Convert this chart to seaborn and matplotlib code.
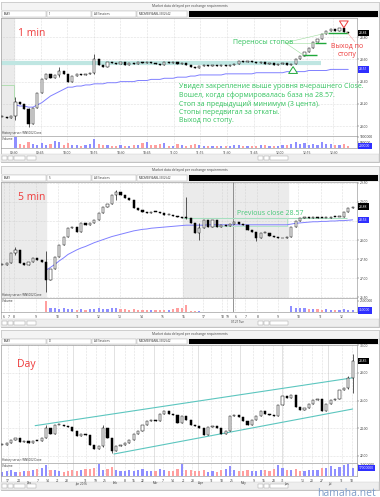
import numpy as np
import matplotlib
matplotlib.use("Agg")
import matplotlib.pyplot as plt
import matplotlib.transforms as mtransforms
from matplotlib.patches import Rectangle
import seaborn as sns

# ---------------- data ----------------
ticker = "EBAY"
feed_note = "Market data delayed per exchange requirements"
sessions = "All Sessions"
account = "MBDMEBYAN6L3502542"
prev_close = 28.57

# 1 min panel
close_1m = [28.08, 28.07, 28.09, 28.22, 28.20, 28.15, 28.02, 28.16, 28.30, 28.42,
            28.47, 28.43, 28.46, 28.50, 28.47, 28.40, 28.45, 28.47, 28.46, 28.47,
            28.48, 28.60, 28.55, 28.53, 28.58, 28.57, 28.56, 28.58, 28.55, 28.57,
            28.56, 28.58, 28.57, 28.58, 28.57, 28.56, 28.55, 28.58, 28.57, 28.58,
            28.56, 28.57, 28.55, 28.53, 28.52, 28.54, 28.55, 28.54, 28.55, 28.54,
            28.55, 28.54, 28.55, 28.56, 28.59, 28.58, 28.59, 28.58, 28.57, 28.58,
            28.56, 28.57, 28.55, 28.56, 28.57, 28.55, 28.56, 28.60, 28.63, 28.67,
            28.70, 28.76, 28.78, 28.83, 28.86, 28.87, 28.86, 28.88, 28.85, 28.84]
ma_1m = [None, None, None,
         28.19, 28.18, 28.18, 28.17, 28.17, 28.19, 28.21,
         28.24, 28.27, 28.29, 28.31, 28.33, 28.35, 28.35, 28.36, 28.36, 28.37,
         28.37, 28.38, 28.38, 28.38, 28.39, 28.39, 28.39, 28.40, 28.40, 28.40,
         28.40, 28.41, 28.41, 28.41, 28.42, 28.42, 28.42, 28.43, 28.43, 28.43,
         28.44, 28.44, 28.44, 28.45, 28.45, 28.46, 28.46, 28.46, 28.46, 28.46,
         28.46, 28.47, 28.47, 28.47, 28.47, 28.47, 28.47, 28.47, 28.48, 28.48,
         28.48, 28.48, 28.48, 28.48, 28.48, 28.49, 28.49, 28.49, 28.49, 28.49,
         28.50, 28.50, 28.50, 28.50, 28.50, 28.51, 28.51, 28.51, 28.51, 28.51]
vol_1m = [30, 40, 30, 1000, 350, 300, 550, 400, 300, 450,
          250, 350, 600, 500, 300, 450, 250, 300, 200, 250,
          400, 850, 350, 250, 300, 200, 220, 250, 180, 200,
          250, 300, 450, 550, 300, 250, 350, 450, 200, 180,
          350, 250, 200, 300, 400, 250, 180, 200, 150, 180,
          220, 150, 180, 250, 300, 200, 180, 150, 200, 250,
          300, 180, 150, 200, 250, 300, 350, 500, 400, 450,
          300, 400, 300, 500, 350, 400, 250, 300, 400, 200]
wicks_1m = {3: (28.05, 28.26), 6: (27.99, 28.16), 13: (28.44, 28.53), 21: (28.47, 28.65)}
times_1m = ["09:30", "09:45", "10:00", "10:15", "10:30", "10:45", "11:00",
            "11:15", "11:30", "11:45", "12:00", "12:15", "12:30"]
stops_1m = [(68.7, 71.8, 28.64), (71.5, 73.9, 28.75), (74.3, 79.0, 28.84)]
notes_1m = ["Увидел закрепление выше уровня вчерашнего Close.",
            "Вошел, когда сформировалась база на 28.57.",
            "Стоп за предыдущий минимум (3 цента).",
            "Стопы передвигал за откаты.",
            "Выход по стопу."]

# 5 min panel
close_5m = [27.34, 27.39, 27.65, 27.74, 27.39, 27.34, 27.43, 27.52, 27.48, 27.43,
            26.95, 27.25, 27.56, 27.87, 28.09, 28.31, 28.35, 28.22, 28.44, 28.39,
            28.44, 28.53, 28.70, 28.88, 28.96, 29.18, 29.27, 29.18, 29.10, 29.05,
            28.83, 28.79, 28.74, 28.70, 28.74, 28.73, 28.70, 28.66, 28.67, 28.64,
            28.61, 28.59, 28.57, 28.44, 28.18, 28.31, 28.53, 28.35, 28.53, 28.35,
            28.39, 28.37, 28.41, 28.48, 28.41, 28.39, 28.26, 28.22, 28.04, 28.18,
            28.18, 28.11, 28.09, 28.06, 28.04, 28.09, 28.35, 28.50, 28.59, 28.61,
            28.59, 28.60, 28.59, 28.57, 28.59, 28.61, 28.60, 28.61, 28.74, 28.85, 28.88]
ma_5m = [None] * 10 + [
         27.21, 27.28, 27.36, 27.45, 27.53, 27.62, 27.68, 27.74, 27.79, 27.83,
         27.88, 27.93, 27.97, 28.01, 28.05, 28.09, 28.12, 28.15, 28.18, 28.21,
         28.24, 28.26, 28.28, 28.29, 28.31, 28.32, 28.33, 28.34, 28.35, 28.36,
         28.37, 28.38, 28.39, 28.39, 28.39, 28.39, 28.39, 28.40, 28.40, 28.40,
         28.40, 28.40, 28.40, 28.40, 28.40, 28.40, 28.40, 28.40, 28.40, 28.40,
         28.40, 28.40, 28.40, 28.40, 28.40, 28.40, 28.42, 28.44, 28.45, 28.46,
         28.47, 28.48, 28.48, 28.49, 28.49, 28.50, 28.50, 28.51, 28.51, 28.52, 28.53]
vol_5m = [5, 5, 8, 5, 5, 6, 5, 5, 6, 8,
          2400, 900, 800, 700, 850, 600, 750, 550, 650, 500,
          700, 600, 800, 650, 700, 850, 900, 650, 600, 500,
          700, 450, 550, 400, 450, 400, 500, 450, 550, 650,
          800, 1000, 1500, 200, 150, 120, 90, 60, 70, 40,
          30, 20, 15, 20, 30, 40, 60, 50, 70, 40,
          30, 40, 50, 60, 50, 80, 1300, 1000, 800, 900,
          700, 600, 750, 500, 650, 450, 550, 400, 600, 550, 350]
wicks_5m = {3: (27.60, 27.82), 10: (26.63, 27.70), 26: (29.05, 29.32),
            42: (28.55, 29.12), 45: (28.00, 28.45), 58: (27.98, 28.22)}
hours_5m = ["6", "7", "8", "9", "10", "11", "12", "13", "14", "15", "16",
            "17", "18", "19", "6", "7", "8", "9", "10", "11", "12"]

# daily panel
close_day = [22.79, 22.90, 23.15, 23.27, 23.00, 23.03, 22.90, 23.08, 23.03, 23.27,
             24.00, 23.57, 24.20, 24.24, 24.17, 24.05, 23.76, 23.40, 23.57, 23.47,
             22.79, 22.50, 22.67, 24.00, 23.27, 22.35, 22.67, 22.74, 22.90, 23.15,
             23.57, 23.76, 24.24, 24.53, 24.60, 24.48, 25.00, 25.21, 25.04, 24.92,
             24.36, 24.85, 24.60, 24.20, 24.12, 24.00, 23.47, 24.05, 24.12, 24.00,
             23.57, 23.80, 24.85, 24.92, 24.78, 24.48, 24.20, 24.60, 24.85, 25.26,
             25.00, 24.97, 24.85, 25.70, 26.30, 26.18, 26.42, 25.50, 25.33, 25.45,
             25.75, 26.06, 26.13, 25.21, 25.75, 26.06, 26.13, 26.79, 26.91, 27.64, 28.85]
vol_day = [9.1, 10.2, 12.5, 8.4, 9.0, 11.3, 10.1, 13.0, 15.2, 18.0,
           24.5, 14.1, 12.2, 10.5, 9.8, 11.9, 13.4, 10.2, 12.8, 14.6,
           16.0, 18.5, 26.0, 14.3, 15.5, 19.8, 13.2, 11.0, 10.6, 12.4,
           11.8, 13.7, 15.9, 12.0, 10.4, 11.6, 14.8, 13.3, 12.1, 11.0,
           16.4, 25.5, 13.6, 12.8, 10.9, 11.7, 14.2, 9.8, 10.3, 9.5,
           12.6, 15.3, 23.0, 13.8, 11.4, 10.2, 12.7, 11.1, 10.6, 13.9,
           12.2, 11.5, 14.9, 24.2, 17.5, 13.0, 12.3, 15.8, 11.6, 10.8,
           12.9, 14.1, 13.5, 18.2, 16.7, 22.5, 15.1, 19.4, 24.8, 26.5, 17.0]
wicks_day = {10: (23.25, 24.25), 23: (22.60, 24.20), 25: (22.15, 23.30),
             79: (26.85, 27.80), 80: (26.55, 29.35)}
channel_up = ([7.5, 80.0], [24.17, 27.65])
channel_dn = ([25.5, 80.0], [22.11, 25.38])
weeks_day = ["17", "24", "7", "14", "21", "28", "11", "19", "25", "8", "16", "22", "7", "14",
             "21", "28", "11", "18", "25", "9", "16", "23", "31", "13", "20", "27", "11", "18"]
months_day = ["Dec", "Jan 2016", "Feb", "Mar", "Apr", "May", "Jun", "Jul"]

# ---------------- layout (pixels) ----------------
W, H = 380, 497
XMIN, XMAX = -0.3, 81.0
PLOT_R = 357
PX_PER_BAR = PLOT_R / (XMAX - XMIN)
MA_COL = "#8080ff"
VUP, VDN = "#8f8fff", "#ff9f9f"
GREEN, RED = "#33c25e", "#ee3b3b"
ARROW = "simple,head_width=0.9,head_length=0.7,tail_width=0.4"

sns.set_theme(style="white")
plt.rcParams["font.family"] = ["Open Sans", "DejaVu Sans"]

fig = plt.figure(figsize=(W / 100, H / 100), dpi=100)
bg = fig.add_axes([0, 0, 1, 1], zorder=-5)
bg.set_xlim(0, W)
bg.set_ylim(H, 0)
bg.axis("off")


def px2i(px):
    return np.asarray(px, float) / PX_PER_BAR + XMIN


def box(x0, y0, x1, y1, **kw):
    bg.add_patch(Rectangle((x0, y0), x1 - x0, y1 - y0, **kw))


def ptext(x, y, s, **kw):
    fig.text(x / W, 1 - y / H, s, **kw)


def add_ax(x0, y0, x1, y1):
    return fig.add_axes([x0 / W, 1 - y1 / H, (x1 - x0) / W, (y1 - y0) / H])


def chrome(top, bottom, price_top, interval):
    box(1, top, 379, bottom, fc="white", ec="#b5b5b5", lw=0.6)
    box(1, top, 379, top + 8, fc="#f4f4f4", ec="#c8c8c8", lw=0.4)
    ptext(190, top + 4.2, feed_note, ha="center", va="center", fontsize=2.4, color="#444444")
    box(1, top + 8, 379, price_top, fc="#ececec", ec="none")
    mid = (top + 8 + price_top) / 2
    for (a, b), s in zip([(2, 46), (47, 91), (92, 136), (137, 187)],
                         [ticker, interval, sessions, account]):
        box(a, top + 9, b, price_top - 1, fc="white", ec="#aaaaaa", lw=0.3)
        ptext(a + 2, mid, s, fontsize=2.1, va="center", color="#333333")
    box(189, top + 8.6, 378, price_top - 0.6, fc="black", ec="none")
    box(1, bottom - 8, 379, bottom, fc="#eeeeee", ec="#cccccc", lw=0.3)
    for a, b in [(2, 7), (8, 13), (14, 25), (27, 36), (258, 263), (264, 269), (270, 288)]:
        box(a, bottom - 6.5, b, bottom - 2, fc="white", ec="#999999", lw=0.3)


def price_tag(ax, y, txt, fc):
    tr = mtransforms.blended_transform_factory(ax.transAxes, ax.transData)
    ax.text(1.006, y, txt, transform=tr, fontsize=2.4, color="white", va="center", ha="left",
            bbox=dict(boxstyle="square,pad=0.35", fc=fc, ec="none"), clip_on=False, zorder=20)


def panel(py, vy, closes, wicks, ma, vols, ylim, yticks, min_body, vticks, vlabels,
          xpos, xlabels, vol_head=1.08):
    axp = add_ax(1, py[0], PLOT_R, py[1])
    axv = add_ax(1, vy[0], PLOT_R, vy[1])
    c = np.asarray(closes, float)
    o = np.r_[c[0], c[:-1]]
    x = np.arange(len(c))
    lo, hi = np.minimum(o, c), np.maximum(o, c)
    wl, wh = lo.copy(), hi.copy()
    for i, (a, b) in wicks.items():
        wl[i], wh[i] = a, b
    up = c >= o
    axp.vlines(x, wl, wh, color="black", lw=0.45, zorder=4)
    axp.bar(x, np.maximum(hi - lo, min_body), bottom=lo, width=0.5,
            color=["white" if u else "black" for u in up], edgecolor="black",
            linewidth=0.35, zorder=5)
    if ma is not None:
        sns.lineplot(x=x, y=np.asarray(ma, float), ax=axp, color=MA_COL, lw=0.7, zorder=3)
    axv.bar(x, vols, width=0.5, color=[VUP if u else VDN for u in up], linewidth=0)

    for ax in (axp, axv):
        ax.set_xlim(XMIN, XMAX)
        ax.set_xlabel("")
        ax.set_ylabel("")
        for s in ax.spines.values():
            s.set_color("#a0a0a0")
            s.set_linewidth(0.5)
        ax.yaxis.tick_right()
        ax.tick_params(axis="both", labelsize=2.4, length=1.2, width=0.3, pad=0.8,
                       colors="#333333")
        ax.set_xticks(xpos)
        ax.grid(True, axis="x", ls=":", lw=0.4, color="#c4c4c4")

    # price labels hidden behind the last-value tags are left blank, as in the screenshot
    tags = [c[-1]] + ([ma[-1]] if ma is not None else [])
    px_per_unit = (py[1] - py[0]) / (ylim[1] - ylim[0])
    labels = [f"{v:.2f}" if all(abs(v - t) * px_per_unit > 4 for t in tags) else ""
              for v in yticks]
    axp.set_ylim(*ylim)
    axp.set_yticks(yticks)
    axp.set_yticklabels(labels)
    axp.grid(True, axis="y", ls=":", lw=0.4, color="#c4c4c4")
    axp.tick_params(axis="x", labelbottom=False, length=0)
    axv.set_ylim(0, max(vols) * vol_head)
    axv.set_yticks(vticks)
    axv.set_yticklabels(vlabels)
    axv.set_xticklabels(xlabels)
    axv.text(0.004, 0.93, "Volume", transform=axv.transAxes, fontsize=2.2, va="top",
             color="#333333")
    axp.text(0.002, 0.02, "History server: WNS002 Done", transform=axp.transAxes,
             fontsize=2.1, color="#333333")
    price_tag(axp, c[-1], f"{c[-1]:.2f}", "black")
    if ma is not None:
        price_tag(axp, ma[-1], f"{ma[-1]:.2f}", "#2f2fff")
    scale = 1000 if max(vols) > 100 else 1000000
    price_tag(axv, vols[-1], f"{int(vols[-1] * scale)}", "#2f2fff")
    return axp, axv


# ---------------- panel 1 : 1 min ----------------
chrome(2, 162, 18, "1")
ax1, av1 = panel((18, 136), (136, 148), close_1m, wicks_1m, ma_1m, vol_1m,
                 (27.91, 28.973), [28.0, 28.2, 28.4, 28.6, 28.8], 0.008,
                 [500, 1000], ["500000", "1000000"],
                 px2i(13 + 26.7 * np.arange(len(times_1m))), times_1m)
ax1.axvspan(XMIN, px2i(13), color="#ebebeb", zorder=0)
ax1.hlines(prev_close, XMIN, 72.7, color="#bfe6e2", lw=3, zorder=1)
ax1.plot([XMIN, 2.7, 2.7], [28.37, 28.37, 28.24], color="#a9dba9", lw=0.6, zorder=2)
for a, b, lvl in stops_1m:
    ax1.hlines(lvl, a, b, color="#1fa83a", lw=1.0, zorder=6)
for a, b, lvl in stops_1m:
    ax1.plot([64.6, a], [28.75, lvl], color="#9ddc9d", lw=0.4, zorder=6)
ax1.annotate("", xy=(66.4, 28.56), xytext=(66.4, 28.45),
             arrowprops=dict(arrowstyle=ARROW, mutation_scale=7, fc="white",
                             ec="#1fa83a", lw=0.7), zorder=7)
ax1.annotate("", xy=(78.0, 28.86), xytext=(78.0, 28.96),
             arrowprops=dict(arrowstyle=ARROW, mutation_scale=7, fc="white",
                             ec=RED, lw=0.7), zorder=7)
ax1.plot([78.6, 80.5], [28.85, 28.76], color="#f3a0a0", lw=0.4, zorder=6)
ptext(18, 33, "1 min", fontsize=7.5, color=RED, va="center")
ptext(233, 42, "Переносы стопов", fontsize=5, color=GREEN, va="center")
ptext(347, 46.5, "Выход по", fontsize=5, color=RED, va="center", ha="center")
ptext(347, 55, "стопу", fontsize=5, color=RED, va="center", ha="center")
for k, line in enumerate(notes_1m):
    ptext(179, 87 + 8.5 * k, line, fontsize=5, color=GREEN, va="center")

# ---------------- panel 2 : 5 min ----------------
chrome(166, 327, 182, "5")
ax2, av2 = panel((182, 298), (298, 312), close_5m, wicks_5m, ma_5m, vol_5m,
                 (26.474, 29.526), [26.5, 27.0, 27.5, 28.0, 28.5, 29.0, 29.5], 0.025,
                 [2500], ["2500000"],
                 px2i([3, 8, 13, 35, 57, 77, 98, 119, 141, 162, 183, 203, 222, 227,
                       235, 245, 257, 278, 298, 321, 342]), hours_5m, vol_head=1.3)
ax2.axvspan(XMIN, px2i(45), color="#ebebeb", zorder=0)
ax2.axvspan(px2i(183), px2i(288), color="#ebebeb", zorder=0)
for a in (ax2, av2):
    a.axvline(px2i(233), color="#6a6a6a", lw=0.5, zorder=2)
ax2.hlines(prev_close, px2i(183), px2i(347), color="#a6dfc0", lw=0.8, zorder=2)
ax2.plot([px2i(212), px2i(287), px2i(287)], [28.36, 28.36, 28.57],
         color="#b5e4c8", lw=0.7, zorder=2)
av2.text(px2i(237), -0.6, "07.21 Tue", transform=mtransforms.blended_transform_factory(
    av2.transData, av2.transAxes), fontsize=2.1, ha="center", va="top", color="#333333")
ptext(18, 198, "5 min", fontsize=7.5, color=RED, va="center")
ptext(237, 214, f"Previous close {prev_close:.2f}", fontsize=5, color="#46c878", va="center")

# ---------------- panel 3 : daily ----------------
chrome(330, 490, 345, "D")
ax3, av3 = panel((345, 463), (463, 476), close_day, wicks_day, None, vol_day,
                 (21.455, 30.036), [22, 24, 26, 28, 30], 0.07,
                 [25], ["25000000"],
                 px2i([7, 18, 37, 47, 57, 66, 85, 95, 104, 124, 133, 142, 162, 172, 183,
                       192, 211, 221, 231, 253, 263, 273, 283, 302, 312, 322, 342, 352]),
                 weeks_day)
month_px = [27, 72, 113, 153, 198, 240, 282, 328]
for a in (ax3, av3):
    for m in month_px:
        a.axvline(px2i(m), color="#d6d6d6", lw=0.5, zorder=0)
for xs, ys in (channel_up, channel_dn):
    sns.lineplot(x=xs, y=ys, ax=ax3, color="#5cc6bf", lw=0.8, zorder=3)
ax3.set_xlim(XMIN, XMAX)
ax3.set_ylim(21.455, 30.036)
ax3.set_xlabel("")
ax3.set_ylabel("")
tr3 = mtransforms.blended_transform_factory(av3.transData, av3.transAxes)
for lab, m in zip(months_day, [28, 80, 115, 155, 200, 243, 286, 330]):
    av3.text(px2i(m), -0.42, lab, transform=tr3, fontsize=2.2, ha="center", va="top",
             color="#333333")
ptext(17, 365, "Day", fontsize=7.5, color=RED, va="center")
ptext(376, 493, "hamaha.net", fontsize=7.5, color="#7d9cc8", ha="right", va="center")

fig.savefig("out.png", dpi=100)
